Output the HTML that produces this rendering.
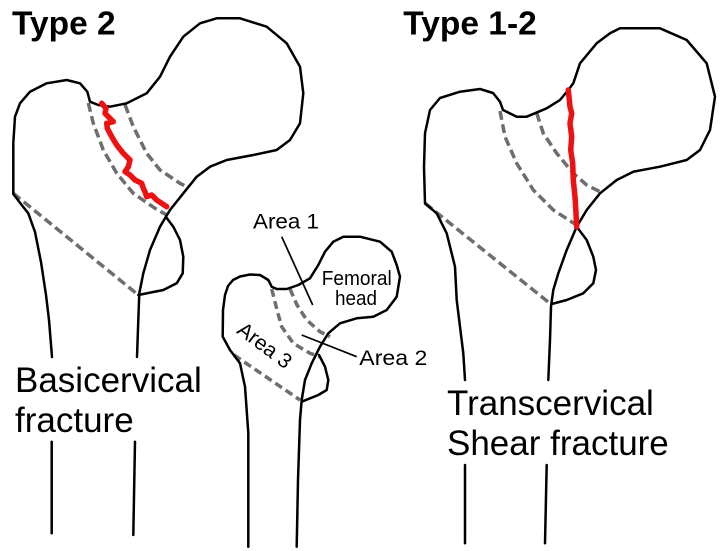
<!DOCTYPE html>
<html>
<head>
<meta charset="utf-8">
<style>
html,body{margin:0;padding:0;background:#fff;}
svg{display:block;}
text{font-family:"Liberation Sans",sans-serif;fill:#000;}
</style>
</head>
<body>
<svg width="720" height="551" viewBox="0 0 720 551" xmlns="http://www.w3.org/2000/svg">
<rect width="720" height="551" fill="#fff"/>

<!-- ========== LEFT FEMUR (Type 2) ========== -->
<g fill="none" stroke="#6e6e6e" stroke-width="3.5" stroke-dasharray="9 4.5">
  <path d="M13.3,193.3 L138.3,295"/>
  <path d="M88.3,103 L93.3,123.3 L103.3,150 L116.7,173.3 L133.3,193.3 L155,208.3 L166.7,215"/>
  <path d="M125,104.7 L133.3,126.7 L146.7,153.3 L160,170 L180,183.3 L186.7,186.7"/>
</g>
<g fill="none" stroke="#000" stroke-width="2.5" stroke-linejoin="round" stroke-linecap="round">
  <path d="M52,357 L49,320 L46,295 L41,262 L35,232 L28.3,213.3 L21.7,205 L13.3,194 L13.3,143 L15,116.7 L20,103.3 L30,91.7 L46.7,83.3 L66.7,80 L80,83.3 L87.3,91.7 L90,101.7 L98.3,105 L110,106.7 L126.7,103.3 L146.7,93.3 L160,76.7 L170,56.7 L183.3,36.7 L200,23.3 L216.7,18.3 L240,18.3 L266.7,26.7 L286.7,43.3 L300,66.7 L303.3,93.3 L300,123.3 L290,140 L276.7,150 L253.3,155 L226.7,160 L210,166.7 L196.7,176.7 L183.3,193.3 L170,210 L160,226.7 L150,250 L143.3,273.3 L139.3,293.3 L138.3,320 L137,357"/>
  <path d="M166,217 L173.3,226.7 L180,240 L183.3,256.7 L182.7,273.3 L176.7,283.3 L163.3,290 L138.3,295"/>
  <path d="M51.7,441.7 L51.7,533.3"/>
  <path d="M135,441.7 L133.3,535"/>
</g>
<path d="M101.7,103.3 L106,108.3 L105,113.3 L108.3,116.7 L113.3,121.7 L106.7,123.3 L107.3,128.3 L111.7,136.7 L116.7,145 L123.3,153.3 L130,160 L128.3,166.7 L125,171.7 L130,175 L135,180 L141.7,183.3 L143.3,188.3 L145,191.7 L146.7,196.7 L151.7,195 L156.7,200 L161.7,203.3 L166.7,206.7" fill="none" stroke="#ee1111" stroke-width="5.5" stroke-linejoin="round" stroke-linecap="round"/>

<text x="12" y="34.3" font-size="33.5" font-weight="bold">Type 2</text>
<text x="15" y="392" font-size="35">Basicervical</text>
<text x="15" y="432" font-size="35">fracture</text>

<!-- ========== MIDDLE FEMUR ========== -->
<g fill="none" stroke="#6e6e6e" stroke-width="3.5" stroke-dasharray="8 4.5">
  <path d="M234,355 L300,400"/>
  <path d="M271.7,289 L277,310 L281.7,326.7 L293.3,343.3 L310,353.3 L320,356.7"/>
  <path d="M290,289 L297,305 L306.7,320 L320,331.7 L330,336.7"/>
</g>
<g fill="none" stroke="#000" stroke-width="2.5" stroke-linejoin="round" stroke-linecap="round">
  <path d="M248.3,546.7 L248.3,433 L245,386.7 L240,363.3 L230,350 L222.7,336.7 L223,310 L225,295 L228,286 L233,280 L240,276.5 L250,274.5 L260,275 L268.3,280 L271.7,286.7 L276.7,289 L286.7,289 L298.3,285 L310,278.3 L318.3,265 L325,251.7 L333.3,241.7 L343.3,236.7 L360,236.7 L380,241.7 L391.7,251.7 L396.7,265 L400,276.7 L396.7,296.7 L386.7,310 L373.3,316.7 L356.7,318.3 L340,323.3 L328.3,333.3 L320,346.7 L311.7,363.3 L305,380 L301.7,400 L300,420 L298,480 L296.7,546.7"/>
  <path d="M319,355 L325,366.7 L328.3,380 L326.7,390 L318.3,395 L301.7,401.7"/>
</g>
<g stroke="#000" stroke-width="1.7" fill="none">
  <path d="M281.7,236.7 L312.7,305"/>
  <path d="M301.7,335 L356.7,356.7"/>
</g>
<text x="253" y="228.3" font-size="21" textLength="66" lengthAdjust="spacingAndGlyphs">Area 1</text>
<text x="321.7" y="285" font-size="20" textLength="70" lengthAdjust="spacingAndGlyphs">Femoral</text>
<text x="335" y="305" font-size="20" textLength="42" lengthAdjust="spacingAndGlyphs">head</text>
<text x="359.3" y="365" font-size="21" textLength="68" lengthAdjust="spacingAndGlyphs">Area 2</text>
<text transform="translate(265,345) rotate(37)" x="0" y="7.5" font-size="21" text-anchor="middle">Area 3</text>

<!-- ========== RIGHT FEMUR (Type 1-2) ========== -->
<g fill="none" stroke="#6e6e6e" stroke-width="3.5" stroke-dasharray="9 4.5">
  <path d="M425,203.3 L552,305"/>
  <path d="M500,111 L505,136.7 L516.7,163.3 L533.3,190 L553.3,210 L575,224"/>
  <path d="M536.7,113 L543.3,133.3 L556.7,153.3 L573.3,173.3 L586.7,185 L600,191.7"/>
</g>
<g fill="none" stroke="#000" stroke-width="2.5" stroke-linejoin="round" stroke-linecap="round">
  <path d="M465,380 L463.3,353.3 L460,326.7 L456.7,300 L455,266.7 L446.7,233.3 L436.7,213.3 L425,203.3 L424,166.7 L425,133.3 L430,110 L440,98 L460,91.7 L480,89 L493,93 L500,101.7 L503,110 L516.7,116.7 L526.7,116.7 L546.7,108.3 L560,100 L568.3,90 L573.3,83.3 L580,63.3 L596.7,43.3 L610,33.3 L620,28.3 L660,28.3 L686.7,40 L706.7,63.3 L715,96.7 L710,130 L700,150 L686.7,160 L660,166.7 L633.3,171.7 L616.7,180 L600,193.3 L586.7,210 L576.7,226.7 L566.7,250 L558.3,273.3 L553.3,290 L551,306.7 L550,340 L548.3,380"/>
  <path d="M576.7,226.7 L586.7,240 L593.3,256.7 L596,270 L593.3,283.3 L583.3,293.3 L566.7,300 L551.7,304"/>
  <path d="M465,465 L465,543.3"/>
  <path d="M546.7,465 L545,543.3"/>
</g>
<path d="M568.3,90 L570,106.7 L571.7,113.3 L570,123.3 L571.7,136.7 L570.7,150 L572.7,163.3 L573.3,180 L575,196.7 L576,213.3 L576.7,226.7" fill="none" stroke="#ee1111" stroke-width="5.5" stroke-linejoin="round" stroke-linecap="round"/>

<text x="403.3" y="34.3" font-size="33.5" font-weight="bold">Type 1-2</text>
<text x="447" y="415" font-size="35">Transcervical</text>
<text x="447" y="455" font-size="35">Shear fracture</text>
</svg>
</body>
</html>
